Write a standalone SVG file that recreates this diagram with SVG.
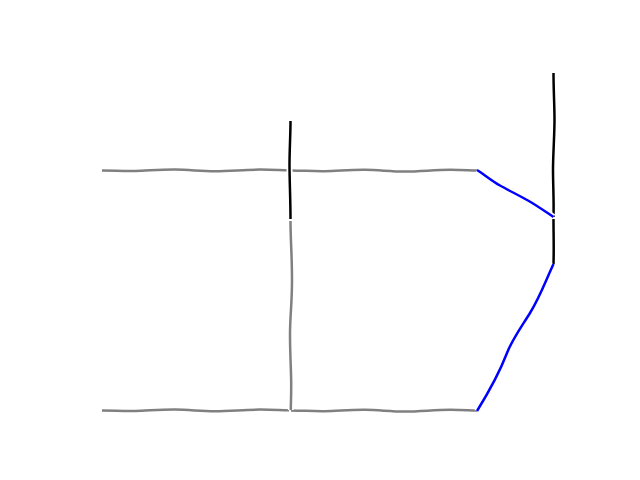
<svg xmlns="http://www.w3.org/2000/svg" width="640" height="480" viewBox="0 0 640 480">
<defs>
<style>
.h{fill:none;stroke:#fff;stroke-width:6;stroke-linecap:butt;stroke-linejoin:round}
.l{fill:none;stroke-width:2.5;stroke-linecap:butt;stroke-linejoin:round}
.g{stroke:#808080}
.k{stroke:#000}
.b{stroke:#0000ff}
</style>
</defs>
<rect width="640" height="480" fill="#fff"/>
<g id="connectors">
<g id="top-left">
<path class="h" d="M102,170.5 C115,170.5 122,171.3 135,171 S160,169.5 175,169.6 S200,171.2 215,171.2 S245,169.6 260,169.6 S280,170.2 289,170.2"/>
<path class="l g" d="M102,170.5 C115,170.5 122,171.3 135,171 S160,169.5 175,169.6 S200,171.2 215,171.2 S245,169.6 260,169.6 S280,170.2 289,170.2"/>
</g>
<g id="top-right">
<path class="h" d="M291,170.4 C305,170.6 312,171.4 325,171.2 S350,169.6 365,169.8 S390,171.5 405,171.5 S435,169.8 450,169.8 S468,170.3 477,170.4"/>
<path class="l g" d="M291,170.4 C305,170.6 312,171.4 325,171.2 S350,169.6 365,169.8 S390,171.5 405,171.5 S435,169.8 450,169.8 S468,170.3 477,170.4"/>
</g>
<g id="bottom-left">
<path class="h" d="M102,410.5 C115,410.5 122,411.3 135,411 S160,409.5 175,409.6 S200,411.2 215,411.2 S245,409.6 260,409.6 S280,410.2 289,410.2"/>
<path class="l g" d="M102,410.5 C115,410.5 122,411.3 135,411 S160,409.5 175,409.6 S200,411.2 215,411.2 S245,409.6 260,409.6 S280,410.2 289,410.2"/>
</g>
<g id="bottom-right">
<path class="h" d="M291,410.4 C305,410.6 312,411.4 325,411.2 S350,409.6 365,409.8 S390,411.5 405,411.5 S435,409.8 450,409.8 S468,410.3 477,410.4"/>
<path class="l g" d="M291,410.4 C305,410.6 312,411.4 325,411.2 S350,409.6 365,409.8 S390,411.5 405,411.5 S435,409.8 450,409.8 S468,410.3 477,410.4"/>
</g>
<g id="mid-vertical">
<path class="h" d="M290.5,221 C290.5,240 292,255 292,280 S290,315 290,335 S291.2,370 291.2,385 S290.8,402 290.8,410"/>
<path class="l g" d="M290.5,221 C290.5,240 292,255 292,280 S290,315 290,335 S291.2,370 291.2,385 S290.8,402 290.8,410"/>
</g>
<g id="left-black">
<path class="h" d="M290.5,121 C290.5,135 289.5,150 289.5,165 S290.5,200 290.5,219"/>
<path class="l k" d="M290.5,121 C290.5,135 289.5,150 289.5,165 S290.5,200 290.5,219"/>
</g>
<g id="right-black-top">
<path class="h" d="M553.5,73 C553.5,90 554.5,105 554.5,120 S553,155 553,170 S554,200 553.5,217"/>
<path class="l k" d="M553.5,73 C553.5,90 554.5,105 554.5,120 S553,155 553,170 S554,200 553.5,217"/>
</g>
<g id="right-black-bottom">
<path class="h" d="M553.5,219 C553.5,235 554,248 553.5,264"/>
<path class="l k" d="M553.5,219 C553.5,235 554,248 553.5,264"/>
</g>
<g id="blue-top">
<path class="h" d="M477,170 C485,175 492,181 500,185.5 S520,196 528,200.5 S546,212 553.5,217"/>
<path class="l b" d="M477,170 C485,175 492,181 500,185.5 S520,196 528,200.5 S546,212 553.5,217"/>
</g>
<g id="blue-bottom">
<path class="h" d="M553.5,264 C546,280 540,297 530,313 S512,340 507,353 S490,390 477,411"/>
<path class="l b" d="M553.5,264 C546,280 540,297 530,313 S512,340 507,353 S490,390 477,411"/>
</g>
</g>
</svg>
